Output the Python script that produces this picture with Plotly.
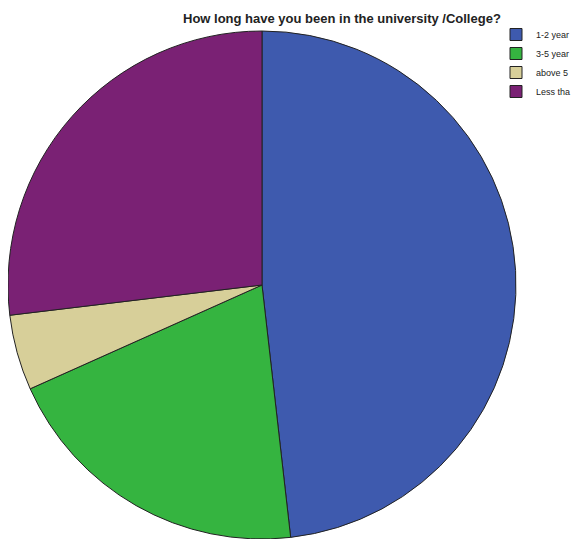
import plotly.graph_objects as go

labels = ["1-2 year", "3-5 year", "above 5", "Less tha"]
values = [48.2, 20.1, 4.8, 26.9]
colors = ["#3E5AAE", "#35B440", "#D7CF99", "#7A2174"]

# page body has an 8px margin, so the figure is sized to fill the rest of the window
W, H = 572, 531
T = 23
PH = H - T
r = 254
cx = 254
fig = go.Figure(go.Pie(
    labels=labels, values=values, sort=False, direction="clockwise", rotation=0,
    marker=dict(colors=colors, line=dict(color="#222222", width=1)),
    textinfo="none", hoverinfo="label+percent",
    domain=dict(x=[(cx - r) / W, (cx + r) / W], y=[0, 1]),
))
fig.update_layout(
    width=W, height=H,
    margin=dict(l=0, r=0, t=T, b=0, autoexpand=False),
    paper_bgcolor="white",
    showlegend=True,
    legend=dict(x=488 / W, y=1 + (T - 12) / PH, xanchor="left", yanchor="top",
                font=dict(family="Arial", size=9, color="#222222"),
                itemwidth=30, tracegroupgap=0, bgcolor="rgba(0,0,0,0)"),
    annotations=[dict(text="<b>How long have you been in the university /College?</b>",
                      xref="paper", yref="paper", x=334 / W, y=1 + (T - 10) / PH,
                      xanchor="center", yanchor="middle",
                      showarrow=False,
                      font=dict(family="Arial", size=13, color="#222222"))],
)
fig.write_html("out.html")
